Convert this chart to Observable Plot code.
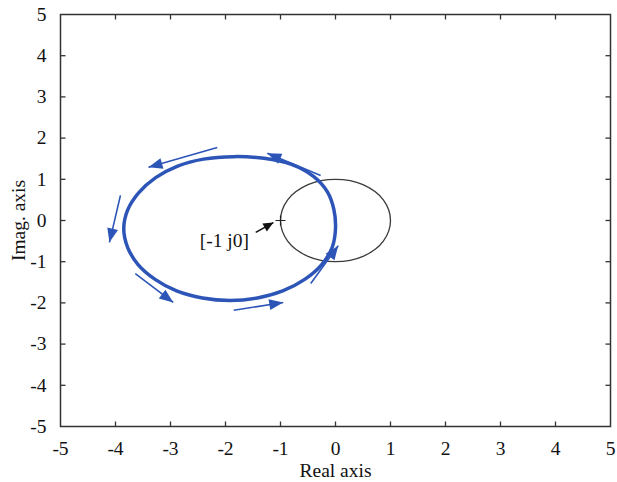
<!DOCTYPE html>
<html><head><meta charset="utf-8">
<script src="https://cdn.jsdelivr.net/npm/d3@7"></script>
<script src="https://cdn.jsdelivr.net/npm/@observablehq/plot@0.6"></script>
<style>body{margin:0;background:#fff}</style>
</head><body><div id="chart"></div>
<script>
// ---- data ----
const xTicks = [-5, -4, -3, -2, -1, 0, 1, 2, 3, 4, 5];
const yTicks = [-5, -4, -3, -2, -1, 0, 1, 2, 3, 4, 5];

// Nyquist curve, counter-clockwise from the right side
const nyqRe = [0.0, -0.03, -0.15, -0.40, -0.80, -1.30, -1.85, -2.40, -2.87, -3.27, -3.58, -3.78, -3.85, -3.78, -3.59, -3.28, -2.89, -2.42, -1.92, -1.42, -0.96, -0.56, -0.25, -0.06];
const nyqIm = [-0.20, 0.27, 0.70, 1.07, 1.36, 1.51, 1.55, 1.49, 1.32, 1.04, 0.67, 0.25, -0.20, -0.65, -1.07, -1.43, -1.71, -1.88, -1.94, -1.88, -1.71, -1.43, -1.07, -0.65];

// Unit circle
const unitRe = [1, 0.87, 0.5, 0, -0.5, -0.87, -1, -0.87, -0.5, 0, 0.5, 0.87];
const unitIm = [0, 0.5, 0.87, 1, 0.87, 0.5, 0, -0.5, -0.87, -1, -0.87, -0.5];

// Direction arrows along the curve (start -> tip)
const dirX1 = [-0.27, -2.15, -3.91, -3.64, -1.85, -0.45];
const dirY1 = [1.09, 1.77, 0.61, -1.29, -2.18, -1.53];
const dirX2 = [-1.24, -3.40, -4.11, -2.95, -0.95, 0.05];
const dirY2 = [1.63, 1.29, -0.53, -1.99, -1.99, -0.61];

// Critical point and its annotation
const critRe = [-1];
const critIm = [0];
const noteText = ["[-1 j0]"];
const noteRe = [-2.02];
const noteIm = [-0.49];
const noteArrowX1 = [-1.45], noteArrowY1 = [-0.29];
const noteArrowX2 = [-1.13], noteArrowY2 = [-0.05];

const xLabel = "Real axis";
const yLabel = "Imag. axis";

// ---- build ----
const W = 617, H = 482, mL = 60, mR = 7, mT = 14, mB = 56;
const kx = (W - mL - mR) / 10, ky = (H - mT - mB) / 10;
const blue = "#2d55b8";

const nyq = nyqRe.map((re, i) => ({re, im: nyqIm[i]}));
const unit = unitRe.map((re, i) => ({re, im: unitIm[i]}));
const dirs = dirX1.map((x1, i) => ({x1, y1: dirY1[i], x2: dirX2[i], y2: dirY2[i]}));
const noteArrows = noteArrowX1.map((x1, i) => ({x1, y1: noteArrowY1[i], x2: noteArrowX2[i], y2: noteArrowY2[i]}));
const crit = critRe.map((re, i) => ({re, im: critIm[i]}));
const notes = noteText.map((t, i) => ({t, re: noteRe[i], im: noteIm[i]}));

const angle = d => Math.atan2((d.x2 - d.x1) * kx, (d.y2 - d.y1) * ky) * 180 / Math.PI;
const head = (len, half) => ({draw(c) { c.moveTo(0, 0); c.lineTo(half, len); c.lineTo(-half, len); c.closePath(); }});
const tickSym = (dx, dy) => ({draw(c) { c.moveTo(0, 0); c.lineTo(dx, dy); }});
const plusSym = {draw(c) { c.moveTo(-5, 0); c.lineTo(5, 0); c.moveTo(0, -5); c.lineTo(0, 5); }};

const inner = xTicks.filter(v => v > -5 && v < 5);
const innerY = yTicks.filter(v => v > -5 && v < 5);
const tickColor = "#333";

const chart = Plot.plot({
  width: W, height: H,
  marginLeft: mL, marginRight: mR, marginTop: mT, marginBottom: mB,
  style: {fontFamily: "'Liberation Serif', 'Times New Roman', serif", fontSize: "19.5px", color: "#111", background: "white"},
  x: {domain: [-5, 5], ticks: xTicks, tickSize: 0, tickPadding: 15, tickFormat: d => String(d), label: xLabel, labelAnchor: "center", labelOffset: 50, labelArrow: "none"},
  y: {domain: [-5, 5], ticks: yTicks, tickSize: 0, tickPadding: 14, tickFormat: d => String(d), label: yLabel, labelAnchor: "center", labelOffset: 49, labelArrow: "none"},
  marks: [
    Plot.frame({stroke: "#333", strokeWidth: 1.5}),
    Plot.dot(inner, {x: d => d, y: () => -5, symbol: tickSym(0, -5), stroke: tickColor, strokeWidth: 1.3}),
    Plot.dot(inner, {x: d => d, y: () => 5, symbol: tickSym(0, 5), stroke: tickColor, strokeWidth: 1.3}),
    Plot.dot(innerY, {x: () => -5, y: d => d, symbol: tickSym(5, 0), stroke: tickColor, strokeWidth: 1.3}),
    Plot.dot(innerY, {x: () => 5, y: d => d, symbol: tickSym(-5, 0), stroke: tickColor, strokeWidth: 1.3}),
    Plot.line(unit, {x: "re", y: "im", curve: "catmull-rom-closed", stroke: "#3a3a3a", strokeWidth: 1.3}),
    Plot.line(nyq, {x: "re", y: "im", curve: "catmull-rom-closed", stroke: blue, strokeWidth: 3.5}),
    Plot.link(dirs, {x1: "x1", y1: "y1", x2: "x2", y2: "y2", stroke: blue, strokeWidth: 1.6}),
    Plot.dot(dirs, {x: "x2", y: "y2", symbol: head(14, 5.5), rotate: angle, fill: blue, stroke: "none"}),
    Plot.dot(crit, {x: "re", y: "im", symbol: plusSym, stroke: "#222", strokeWidth: 1.2}),
    Plot.link(noteArrows, {x1: "x1", y1: "y1", x2: "x2", y2: "y2", stroke: "#111", strokeWidth: 1.5}),
    Plot.dot(noteArrows, {x: "x2", y: "y2", symbol: head(10, 4.5), rotate: angle, fill: "#111", stroke: "none"}),
    Plot.text(notes, {x: "re", y: "im", text: "t", fill: "#111", fontSize: 19.5})
  ]
});
document.getElementById("chart").appendChild(chart);
</script>
</body></html>
